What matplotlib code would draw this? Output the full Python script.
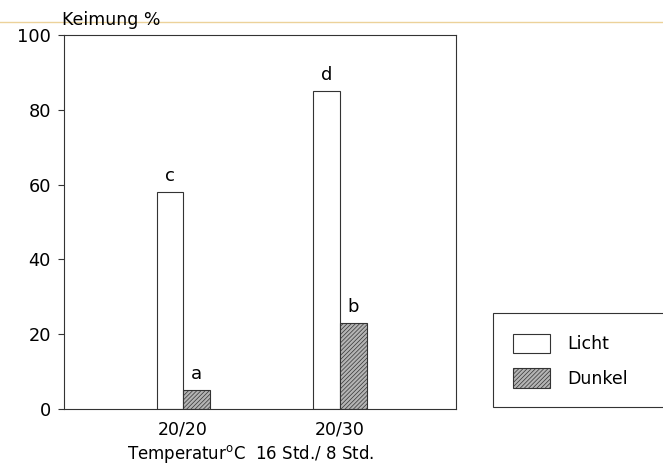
import matplotlib
matplotlib.use("Agg")
import matplotlib.pyplot as plt
from matplotlib.patches import Rectangle, Patch
from matplotlib.lines import Line2D
import numpy as np

plt.rcParams['font.family'] = ['DejaVu Sans']
plt.rcParams['mathtext.fontset'] = 'dejavusans'
plt.rcParams['hatch.linewidth'] = 0.5

# Daten (Keimung in %)
temperaturen = ["20/20", "20/30"]
licht = [58, 85]
dunkel = [5, 23]
buchst_licht = ["c", "d"]
buchst_dunkel = ["a", "b"]

W, H = 663, 465
fig = plt.figure(figsize=(W / 100, H / 100), dpi=100)
ax = fig.add_axes([64 / W, 1 - 409 / H, 392 / W, 374 / H])

x = np.arange(len(temperaturen))
breite = 0.17
rand = "#333333"
schraffur = "////////"

b1 = ax.bar(x - breite / 2, licht, breite, color="white", edgecolor=rand, linewidth=0.8)
b2 = ax.bar(x + breite / 2, dunkel, breite, color="#b4b4b4", edgecolor=rand,
            linewidth=0.8, hatch=schraffur)

for xi, v, s in zip(x - breite / 2, licht, buchst_licht):
    ax.text(xi, v + 2, s, ha="center", va="bottom", fontsize=13)
for xi, v, s in zip(x + breite / 2, dunkel, buchst_dunkel):
    ax.text(xi, v + 2, s, ha="center", va="bottom", fontsize=13)

ax.set_xlim(-0.76, 1.74)
ax.set_ylim(0, 100)
ax.set_yticks([0, 20, 40, 60, 80, 100])
ax.set_xticks(x)
ax.set_xticklabels(temperaturen)
ax.tick_params(axis="y", length=4.5, width=0.8, pad=5, labelsize=12.8, color=rand)
ax.tick_params(axis="x", length=0, pad=8, labelsize=12.5)
for sp in ax.spines.values():
    sp.set_linewidth(0.8)
    sp.set_color(rand)

fig.text(62 / W, 1 - 20 / H, "Keimung %", ha="left", va="center", fontsize=12.5)
fig.text(251 / W, 1 - 454 / H, "Temperatur$^{\\mathrm{o}}$C  16 Std./ 8 Std.",
         ha="center", va="center", fontsize=12)

# Papierlinie oben im Scan
fig.add_artist(Line2D([0, 1], [1 - 22 / H, 1 - 22 / H], transform=fig.transFigure,
                      color="#ecd29a", linewidth=1, zorder=0))

# Legende mit Rahmen bis zum rechten Rand
fig.add_artist(Rectangle((493 / W, 1 - 407 / H), 180 / W, 94 / H, transform=fig.transFigure,
                         facecolor="white", edgecolor=rand, linewidth=0.8, clip_on=False))
handles = [Patch(facecolor="white", edgecolor=rand, linewidth=0.8, label="Licht"),
           Patch(facecolor="#b4b4b4", edgecolor=rand, linewidth=0.8, hatch=schraffur,
                 label="Dunkel")]
fig.legend(handles=handles, loc="upper left", bbox_to_anchor=(506 / W, 1 - 327 / H),
           frameon=False, fontsize=12.5, handlelength=2.15, handleheight=1.35,
           handletextpad=1.0, labelspacing=0.85, borderaxespad=0)

fig.savefig("out.png", dpi=100)
